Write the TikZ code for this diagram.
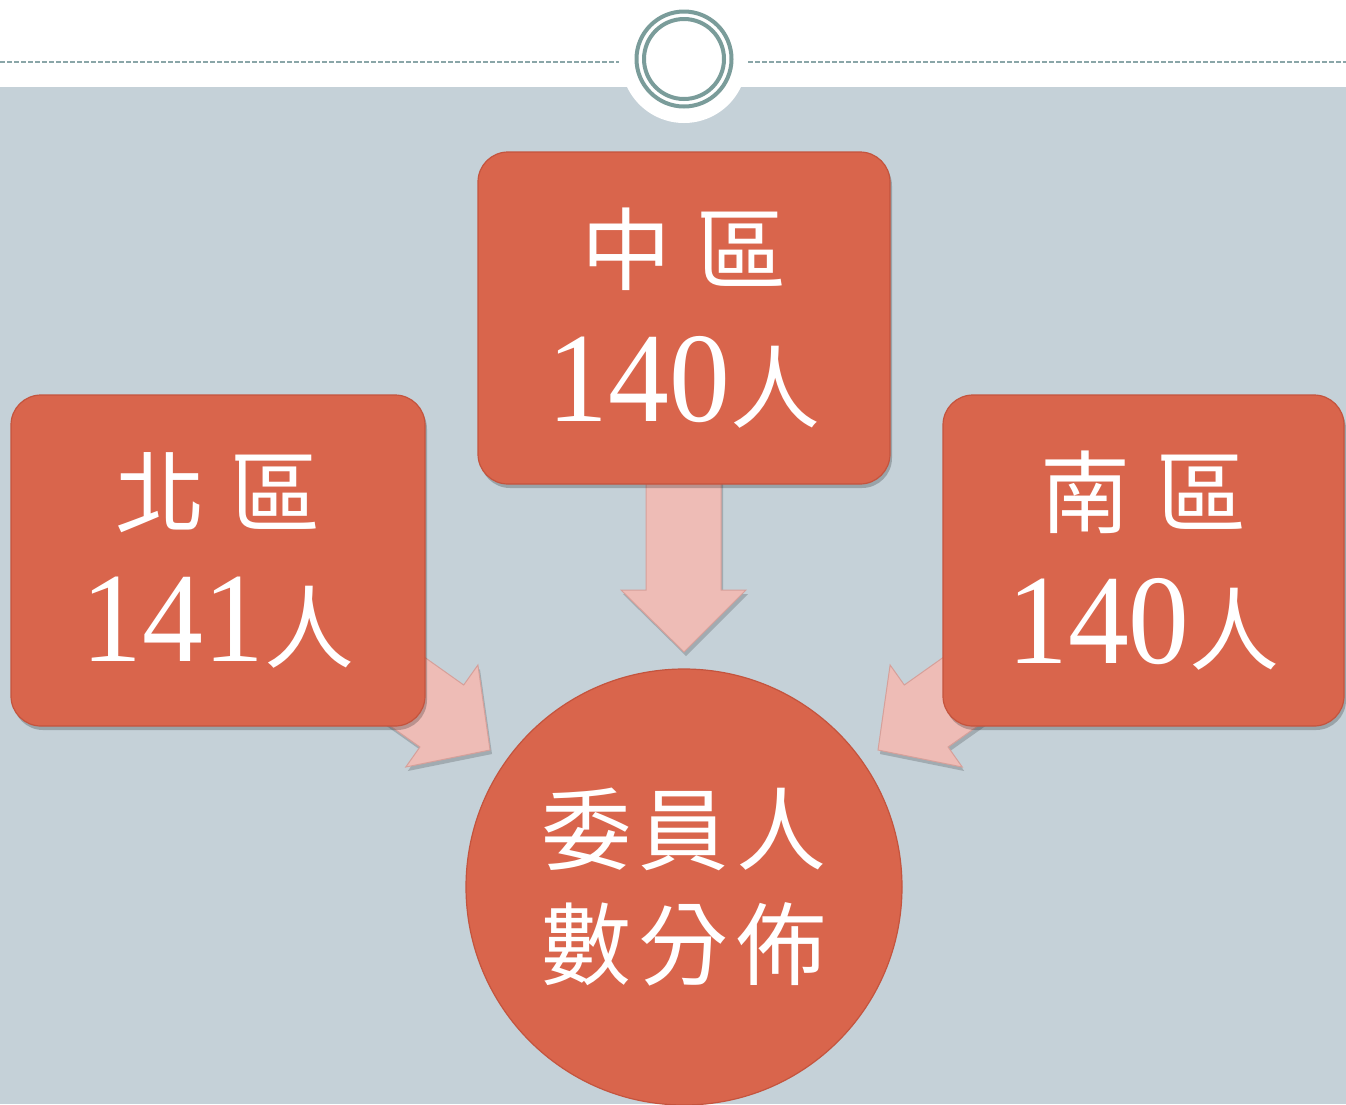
\documentclass[tikz,border=0pt]{standalone}
\usepackage{fontspec}
\usetikzlibrary{shadows}
\newfontfamily\cjk{Noto Sans CJK TC}
\newfontfamily\digitfont{Liberation Serif}
\definecolor{bgblue}{RGB}{197,209,216}
\definecolor{boxfill}{RGB}{217,101,76}
\definecolor{boxline}{RGB}{196,84,62}
\definecolor{arrowfill}{RGB}{238,188,182}
\definecolor{arrowline}{RGB}{214,160,154}
\definecolor{ringcol}{RGB}{122,156,154}
\definecolor{dashcol}{RGB}{138,166,168}
\newcommand{\cjktxt}[1]{{\cjk\fontsize{90}{110}\selectfont #1}}
\newcommand{\numtxt}[1]{{\digitfont\fontsize{128}{130}\selectfont\scalebox{0.95}[1]{#1}}}
\tikzset{
  regionbox/.style={draw=boxline, line width=1.2pt, fill=boxfill, rounded corners=30pt,
    text=white, align=center, inner sep=0pt,
    drop shadow={shadow xshift=2pt, shadow yshift=-4pt, opacity=0.22, fill=black}},
  bigcircle/.style={circle, draw=boxline, line width=1.2pt, fill=boxfill,
    text=white, align=center, inner sep=0pt, minimum size=436pt},
  blockarrow/.style={draw=arrowline, line width=1pt, fill=arrowfill, line join=miter,
    drop shadow={shadow xshift=2pt, shadow yshift=-4pt, opacity=0.18, fill=black}},
  ring/.style={draw=ringcol, line width=4pt},
  topdash/.style={draw=dashcol, line width=1.3pt, dash pattern=on 5pt off 2pt}
}
\begin{document}
\begin{tikzpicture}[x=1pt,y=-1pt]
\useasboundingbox (0,0) rectangle (1346,1104);
\clip (0,0) rectangle (1346,1104);
% background
\fill[white] (0,0) rectangle (1346,1104);
\fill[bgblue] (0,87) rectangle (1346,1104);
\fill[white] (684,60) circle[radius=63];
% top ornament
\draw[topdash] (0,62) -- (619,62);
\draw[topdash] (748,62) -- (1346,62);
\draw[ring] (684,59) circle[radius=47.5];
\draw[ring] (684,59) circle[radius=40];
% block arrows (drawn under the boxes)
\filldraw[blockarrow] (646,470) -- (721,470) -- (721,590) -- (746,590) -- (684,652) -- (621,590) -- (646,590) -- cycle;
\filldraw[blockarrow] (341,598) -- (463.7,685) -- (477.9,665) -- (490,750) -- (405.8,767) -- (419.9,747) -- (297,660) -- cycle;
\filldraw[blockarrow] (1027,598) -- (904.3,685) -- (890.1,665) -- (878,750) -- (962.2,767) -- (948.1,747) -- (1071,660) -- cycle;
% boxes
\node[regionbox, minimum width=412pt, minimum height=332pt] (mid) at (684,318)
  {\cjktxt{中\hspace{26pt}區}\\[44pt]\numtxt{140}\cjktxt{人}};
\node[regionbox, minimum width=414pt, minimum height=331pt] (north) at (218,560.5)
  {\cjktxt{北\hspace{26pt}區}\\[44pt]\numtxt{141}\cjktxt{人}};
\node[regionbox, minimum width=401pt, minimum height=331pt] (south) at (1143.5,560.5)
  {\cjktxt{南\hspace{26pt}區}\\[44pt]\numtxt{140}\cjktxt{人}};
% circle
\node[bigcircle] (total) at (684,887)
  {\cjktxt{委\hspace{8pt}員\hspace{8pt}人}\\[30pt]\cjktxt{數\hspace{8pt}分\hspace{8pt}佈}};
\end{tikzpicture}
\end{document}
